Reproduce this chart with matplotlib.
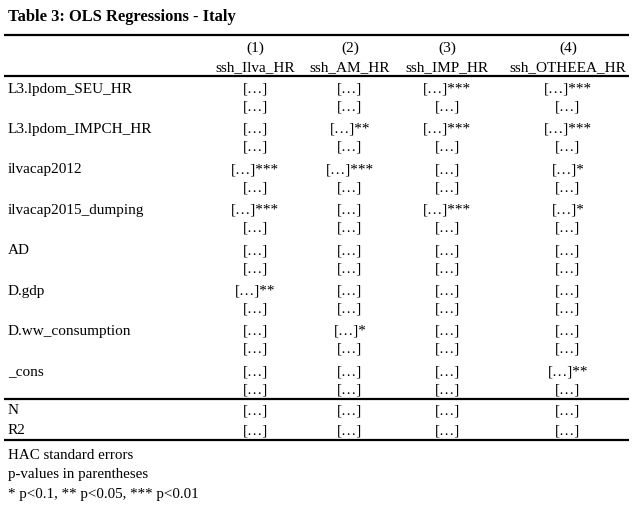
import matplotlib.pyplot as plt

# table content
title = "Table 3: OLS Regressions - Italy"
col_numbers = ["(1)", "(2)", "(3)", "(4)"]
col_names = ["ssh_Ilva_HR", "ssh_AM_HR", "ssh_IMP_HR", "ssh_OTHEEA_HR"]
variables = ["L3.lpdom_SEU_HR", "L3.lpdom_IMPCH_HR", "ilvacap2012",
             "ilvacap2015_dumping", "AD", "D.gdp", "D.ww_consumption", "_cons"]
# significance stars on the coefficient line, one list per variable
coef_stars = [
    ["", "", "***", "***"],
    ["", "**", "***", "***"],
    ["***", "***", "", "*"],
    ["***", "", "***", "*"],
    ["", "", "", ""],
    ["**", "", "", ""],
    ["", "*", "", ""],
    ["", "", "", "**"],
]
stat_labels = ["N", "R2"]
notes = ["HAC standard errors", "p-values in parentheses",
         "* p<0.1, ** p<0.05, *** p<0.01"]
cell = "[\u2026]"

plt.rcParams['font.family'] = ['Liberation Serif', 'DejaVu Serif']

fig = plt.figure(figsize=(6.38, 5.06), dpi=100)
ax = fig.add_axes([0, 0, 1, 1])
ax.set_xlim(0, 638)
ax.set_ylim(506, 0)
ax.axis('off')

fs = 11
col_x = [255, 350, 447, 568]
left = 8

ax.text(left, 17, title, fontsize=11.9, fontweight='bold', va='center', ha='left')

# rules
for y in [36, 77, 400, 441]:
    ax.plot([4, 629], [y, y], color='black', lw=1.6, solid_capstyle='butt')

# header
for x, num, name in zip(col_x, col_numbers, col_names):
    ax.text(x, 48, num, fontsize=fs, ha='center', va='center')
    ax.text(x, 67.5, name, fontsize=fs, ha='center', va='center')

# body
y0 = 89
step = 40.4
for i, (var, stars) in enumerate(zip(variables, coef_stars)):
    y = y0 + i * step
    ax.text(left, y, var, fontsize=fs, ha='left', va='center')
    for x, s in zip(col_x, stars):
        ax.text(x, y, cell + s, fontsize=fs, ha='center', va='center')
        ax.text(x, y + 18, cell, fontsize=fs, ha='center', va='center')

# stats
for j, lab in enumerate(stat_labels):
    y = 411 + j * 20
    ax.text(left, y, lab, fontsize=fs, ha='left', va='center')
    for x in col_x:
        ax.text(x, y, cell, fontsize=fs, ha='center', va='center')

# notes
for j, note in enumerate(notes):
    ax.text(left, 455.5 + j * 19.5, note, fontsize=10.8, ha='left', va='center')

fig.savefig('out.png', dpi=100)
